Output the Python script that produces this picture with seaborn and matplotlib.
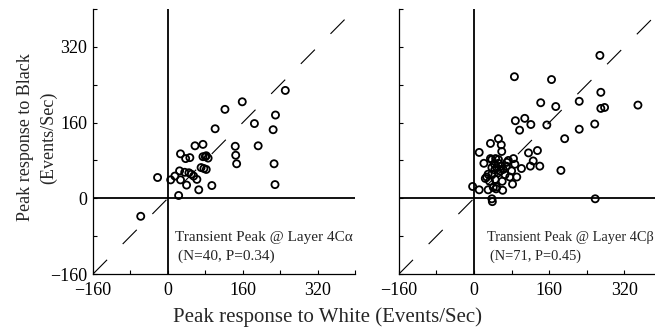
import numpy as np
import matplotlib
matplotlib.use("Agg")
import matplotlib.pyplot as plt
import seaborn as sns
import pandas as pd
from matplotlib.ticker import MultipleLocator, FuncFormatter

# Layer 4C-alpha: (white, black) peak responses, events/sec
alpha_white = [-58, -22, 6, 15, 23, 25, 27, 27, 36, 38, 40, 45, 47, 50, 55, 58, 62, 66,
               71, 75, 75, 77, 82, 82, 86, 80, 94, 101, 122, 144, 145, 147, 159, 185, 193,
               225, 227, 229, 230, 251]
alpha_black = [-38, 44, 39, 47, 6, 58, 39, 94, 55, 84, 28, 54, 86, 51, 47, 111, 40, 18,
               65, 114, 88, 63, 61, 90, 85, 88, 27, 147, 188, 110, 91, 73, 204, 158, 111,
               145, 73, 29, 176, 228]

# Layer 4C-beta
beta_white = [-3, 11, 11, 21, 24, 27, 30, 30, 35, 35, 38, 39, 38, 38, 38, 41, 43, 46, 47,
              48, 48, 52, 52, 52, 52, 58, 59, 61, 62, 59, 69, 73, 76, 80, 82, 84, 87, 91,
              86, 88, 97, 101, 108, 116, 120, 121, 126, 135, 140, 142, 155, 165, 174, 185,
              193, 224, 224, 257, 258, 268, 270, 270, 278, 349,
              44, 56, 66, 70, 33, 45, 60]
beta_black = [25, 18, 97, 74, 42, 45, 51, 18, 116, 84, -1, -7, 82, 65, 51, 23, 73, 84, 20,
              65, 24, 126, 82, 74, 54, 113, 99, 17, 61, 68, 68, 80, 45, 58, 30, 84, 72, 45,
              257, 164, 144, 63, 169, 96, 68, 156, 79, 101, 68, 202, 155, 251, 194, 59,
              126, 205, 146, 157, -1, 302, 224, 190, 192, 197,
              60, 58, 50, 76, 36, 40, 36]

panels = [
    ("Transient Peak @ Layer 4C\u03b1", "(N=40, P=0.34)", alpha_white, alpha_black),
    ("Transient Peak @ Layer 4C\u03b2", "(N=71, P=0.45)", beta_white, beta_black),
]
lims = [-160, 400]

sns.set_theme(style="ticks")
plt.rcParams["font.family"] = ["Liberation Serif", "DejaVu Serif"]
plt.rcParams["axes.unicode_minus"] = True

fig = plt.figure(figsize=(6.55, 3.35), dpi=100)
ax_pos = [[0.142, 0.182, 0.400, 0.791], [0.609, 0.182, 0.4015, 0.791]]
# annotation placement (data units) and size per panel
note_x = [(15, 22), (27, 33)]
note_size = [11, 10.4]

for i, (title, stats, wx, by) in enumerate(panels):
    ax = fig.add_axes(ax_pos[i])
    df = pd.DataFrame({"white": wx, "black": by})

    # diagonal unity line and zero axes
    ax.plot(lims, lims, color="black", lw=0.8, linestyle=(0, (18, 20)), zorder=1)
    ax.axhline(0, color="black", lw=1.3, zorder=1)
    ax.axvline(0, color="black", lw=1.3, zorder=1)

    sns.scatterplot(data=df, x="white", y="black", ax=ax, s=26, marker="o",
                    facecolor="none", edgecolor="black", linewidth=1.3, zorder=3)

    ax.set_xlim(lims)
    ax.set_ylim(lims)
    for axis in (ax.xaxis, ax.yaxis):
        axis.set_major_locator(MultipleLocator(80))
        axis.set_major_formatter(FuncFormatter(
            lambda v, p: ("\u2212%d" % -v if v < 0 else "%d" % v) if int(v) % 160 == 0 else ""))
    ax.tick_params(direction="in", length=3, width=0.8, labelsize=13, pad=4, colors="black")
    ax.tick_params(axis="x", pad=6)
    if i == 1:
        ax.set_yticklabels([])
    ax.set_xlabel("")
    ax.set_ylabel("")
    for side in ("top", "right"):
        ax.spines[side].set_visible(False)
    for side in ("left", "bottom"):
        ax.spines[side].set_linewidth(0.9)
        ax.spines[side].set_color("black")

    ax.text(note_x[i][0], -82, title, fontsize=note_size[i], va="center", ha="left")
    ax.text(note_x[i][1], -122, stats, fontsize=note_size[i], va="center", ha="left")

fig.text(0.5, 0.054, "Peak response to White (Events/Sec)", ha="center", va="center",
         fontsize=15)
fig.text(0.056, 0.59, "Peak response to Black\n(Events/Sec)", ha="center", va="center",
         rotation=90, fontsize=13, linespacing=1.45)

fig.savefig("out.png", dpi=100)
